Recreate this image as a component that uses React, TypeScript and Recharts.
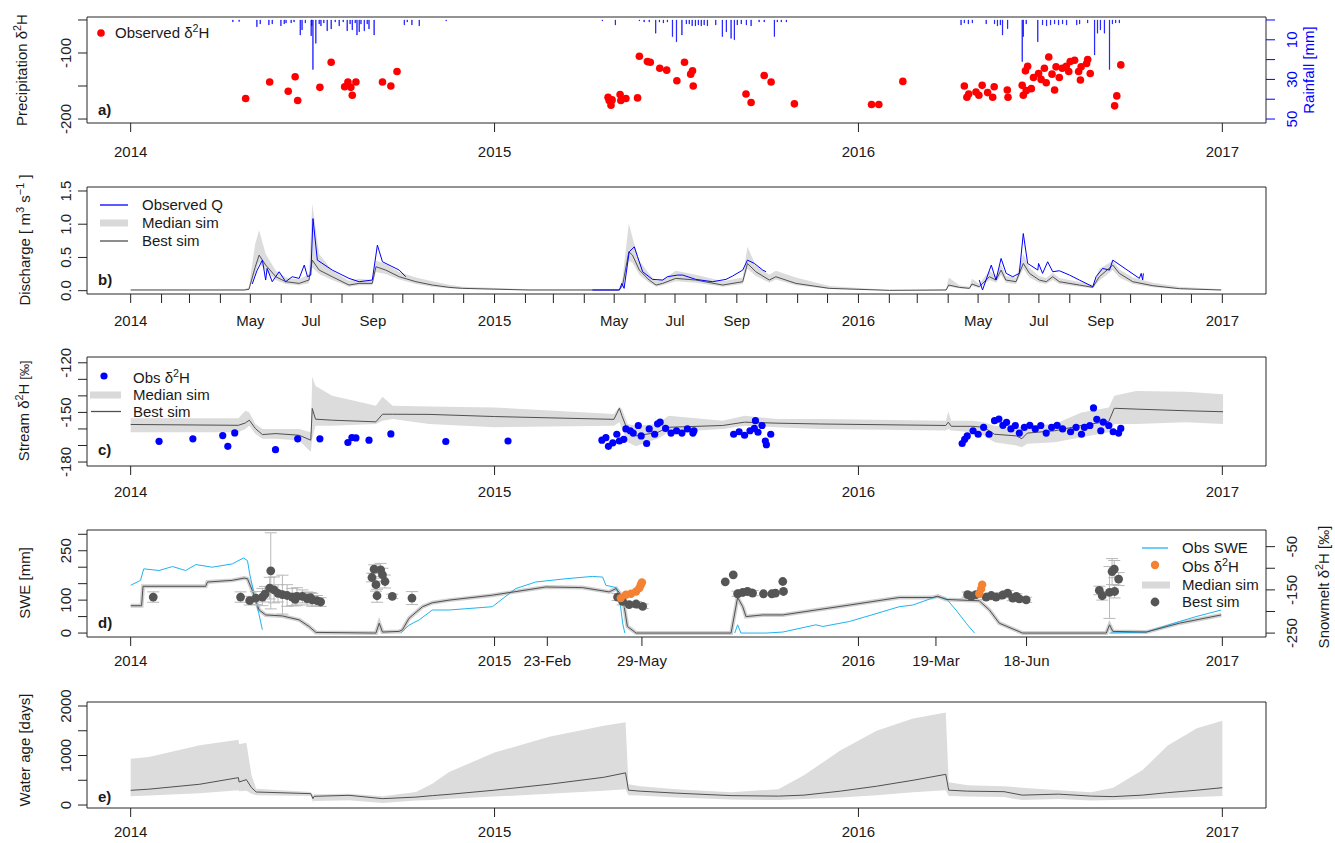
import React from "react";
import {
  ComposedChart,
  XAxis,
  YAxis,
  Line,
  Area,
  Scatter,
  Bar,
  ErrorBar,
  ReferenceArea,
} from "recharts";

const FONT = "'Liberation Sans', Arial, sans-serif";
const X_DOMAIN: [number, number] = [2013.88, 2017.12];
const BAND = "#DCDCDC";
const BEST = "#505050";

// ---------- x tick values / labels
const yearTicks = [2014, 2015, 2016, 2017];
const yearLabels = ["2014", "2015", "2016", "2017"];
const monthStartDays = [0, 31, 59, 90, 120, 151, 181, 212, 243, 273, 304, 334];
const monthNames = ["", "", "", "", "May", "", "Jul", "", "Sep", "", "", ""];
const sweTicks = [2014, 2015, 2015.145, 2015.405, 2016, 2016.213, 2016.462, 2017];
const sweLabels = ["2014", "2015", "23-Feb", "29-May", "2016", "19-Mar", "18-Jun", "2017"];

// ---------- a) precipitation isotopes + rainfall
const precipObs: [number, number][] = [
  [2014.316, -169], [2014.382, -144], [2014.433, -158], [2014.452, -136], [2014.459, -172],
  [2014.52, -152], [2014.551, -114], [2014.588, -151], [2014.597, -144], [2014.605, -152],
  [2014.609, -164], [2014.619, -144], [2014.692, -144], [2014.715, -150], [2014.732, -128],
  [2015.312, -167], [2015.315, -172], [2015.32, -179], [2015.323, -171], [2015.345, -163],
  [2015.347, -172], [2015.361, -169], [2015.393, -168], [2015.398, -105], [2015.42, -113],
  [2015.428, -114], [2015.454, -123], [2015.473, -126], [2015.501, -142], [2015.522, -114],
  [2015.539, -132], [2015.544, -127], [2015.546, -150], [2015.691, -162], [2015.705, -175],
  [2015.741, -134], [2015.76, -144], [2015.824, -177], [2016.036, -178], [2016.056, -178],
  [2016.122, -143], [2016.291, -150], [2016.298, -167], [2016.303, -162], [2016.323, -159],
  [2016.331, -164], [2016.34, -149], [2016.355, -160], [2016.369, -167], [2016.373, -151],
  [2016.409, -156], [2016.411, -167], [2016.45, -149], [2016.453, -164], [2016.459, -127],
  [2016.461, -157], [2016.465, -120], [2016.475, -154], [2016.481, -137], [2016.495, -131],
  [2016.502, -140], [2016.511, -123], [2016.516, -145], [2016.523, -106], [2016.532, -132],
  [2016.539, -156], [2016.543, -121], [2016.552, -137], [2016.56, -123], [2016.571, -120],
  [2016.578, -128], [2016.582, -113], [2016.594, -111], [2016.605, -128], [2016.61, -141],
  [2016.612, -121], [2016.627, -116], [2016.63, -110], [2016.637, -131], [2016.704, -180],
  [2016.71, -165], [2016.721, -118],
];

const rainfall: [number, number][] = [
  [2014.281, 1], [2014.298, 0.8], [2014.347, 3.4], [2014.356, 2], [2014.38, 2.5], [2014.389, 2],
  [2014.413, 3], [2014.422, 2], [2014.427, 1.5], [2014.441, 1.5], [2014.449, 1], [2014.466, 7.6],
  [2014.471, 5], [2014.48, 1.5], [2014.496, 8], [2014.498, 3], [2014.501, 25], [2014.509, 11.8],
  [2014.518, 2], [2014.523, 3], [2014.531, 1.5], [2014.54, 5.5], [2014.551, 4.5], [2014.562, 1],
  [2014.573, 3], [2014.584, 1], [2014.595, 5.5], [2014.603, 2], [2014.609, 5], [2014.617, 1.5],
  [2014.622, 7.6], [2014.628, 6], [2014.633, 2], [2014.642, 5.5], [2014.65, 2], [2014.655, 4.5],
  [2014.669, 7.6], [2014.752, 2.5], [2014.76, 1], [2014.773, 2.5], [2014.793, 3], [2014.867, 0.5],
  [2015.296, 0.5], [2015.332, 2.5], [2015.398, 0.5], [2015.411, 1], [2015.425, 1], [2015.443, 6.7],
  [2015.453, 1], [2015.464, 1.5], [2015.475, 1], [2015.489, 8.4], [2015.5, 11], [2015.515, 7.6],
  [2015.527, 2], [2015.535, 2], [2015.543, 3], [2015.552, 3], [2015.56, 2.5], [2015.568, 3],
  [2015.576, 2.5], [2015.585, 3], [2015.608, 2.5], [2015.626, 8.4], [2015.637, 6], [2015.65, 9.3],
  [2015.659, 10], [2015.667, 2.5], [2015.678, 2], [2015.692, 2.5], [2015.705, 3], [2015.727, 1],
  [2015.741, 1], [2015.769, 8.4], [2015.777, 1], [2015.788, 1], [2015.802, 1], [2016.282, 2.5],
  [2016.291, 1.5], [2016.302, 2], [2016.313, 1.5], [2016.351, 2], [2016.374, 2], [2016.382, 3],
  [2016.39, 2.5], [2016.396, 7.6], [2016.41, 4.4], [2016.45, 21], [2016.453, 8.4], [2016.461, 2],
  [2016.493, 11], [2016.506, 2.5], [2016.517, 3], [2016.528, 2.5], [2016.539, 2], [2016.55, 2.5],
  [2016.561, 2], [2016.572, 2.5], [2016.6, 2.5], [2016.608, 2], [2016.63, 1.5], [2016.649, 17.7],
  [2016.657, 6.7], [2016.665, 5], [2016.676, 6.7], [2016.69, 25], [2016.698, 2], [2016.707, 1.5],
  [2016.717, 1.5],
];

// ---------- b) discharge: [t, best, lo, hi]
const qSim: [number, number, number, number][] = [
  [2014.0, 0.01, 0.005, 0.02], [2014.312, 0.01, 0.005, 0.02], [2014.325, 0.02, 0.01, 0.05],
  [2014.342, 0.35, 0.25, 0.7], [2014.353, 0.535, 0.42, 0.91], [2014.371, 0.385, 0.3, 0.55],
  [2014.399, 0.21, 0.16, 0.3], [2014.426, 0.135, 0.1, 0.2], [2014.463, 0.11, 0.08, 0.17],
  [2014.49, 0.16, 0.11, 0.25], [2014.499, 0.46, 0.35, 1.31], [2014.518, 0.31, 0.25, 0.55],
  [2014.554, 0.21, 0.16, 0.3], [2014.6, 0.085, 0.06, 0.15], [2014.628, 0.11, 0.08, 0.18],
  [2014.664, 0.11, 0.08, 0.16], [2014.674, 0.36, 0.28, 0.45], [2014.701, 0.31, 0.25, 0.4],
  [2014.738, 0.21, 0.17, 0.28], [2014.784, 0.135, 0.1, 0.2], [2014.829, 0.085, 0.06, 0.14],
  [2014.875, 0.05, 0.035, 0.09], [2014.912, 0.035, 0.025, 0.06], [2015.095, 0.01, 0.005, 0.02],
  [2015.343, 0.01, 0.005, 0.02], [2015.352, 0.085, 0.05, 0.2], [2015.369, 0.585, 0.45, 1.01],
  [2015.379, 0.535, 0.42, 0.8], [2015.398, 0.31, 0.24, 0.45], [2015.425, 0.16, 0.12, 0.25],
  [2015.444, 0.085, 0.06, 0.15], [2015.462, 0.11, 0.08, 0.17], [2015.498, 0.185, 0.14, 0.3],
  [2015.553, 0.16, 0.12, 0.24], [2015.627, 0.085, 0.06, 0.14], [2015.682, 0.135, 0.1, 0.2],
  [2015.695, 0.41, 0.33, 0.66], [2015.718, 0.285, 0.22, 0.38], [2015.755, 0.16, 0.12, 0.24],
  [2015.773, 0.21, 0.17, 0.3], [2015.828, 0.11, 0.08, 0.2], [2015.92, 0.035, 0.025, 0.07],
  [2016.085, 0.005, 0.002, 0.01], [2016.241, 0.01, 0.005, 0.02], [2016.248, 0.085, 0.06, 0.2],
  [2016.277, 0.05, 0.035, 0.08], [2016.305, 0.035, 0.025, 0.06], [2016.312, 0.1, 0.07, 0.18],
  [2016.332, 0.06, 0.04, 0.1], [2016.36, 0.21, 0.16, 0.3], [2016.378, 0.16, 0.12, 0.22],
  [2016.392, 0.31, 0.24, 0.4], [2016.405, 0.16, 0.12, 0.22], [2016.433, 0.135, 0.1, 0.2],
  [2016.453, 0.41, 0.33, 0.55], [2016.47, 0.26, 0.2, 0.34], [2016.497, 0.16, 0.12, 0.22],
  [2016.516, 0.135, 0.1, 0.19], [2016.534, 0.21, 0.16, 0.27], [2016.552, 0.135, 0.1, 0.19],
  [2016.607, 0.085, 0.06, 0.13], [2016.644, 0.05, 0.035, 0.09], [2016.662, 0.21, 0.15, 0.33],
  [2016.699, 0.385, 0.31, 0.45], [2016.717, 0.26, 0.2, 0.32], [2016.754, 0.135, 0.1, 0.2],
  [2016.809, 0.075, 0.05, 0.12], [2016.882, 0.03, 0.02, 0.06], [2016.997, 0.01, 0.005, 0.02],
];

const obsQ: [number, number | null][] = [
  [2014.334, 0.1], [2014.347, 0.3], [2014.362, 0.46], [2014.371, 0.16], [2014.375, 0.335],
  [2014.389, 0.135], [2014.408, 0.285], [2014.426, 0.135], [2014.444, 0.21], [2014.463, 0.185],
  [2014.477, 0.385], [2014.486, 0.21], [2014.495, 0.235], [2014.501, 1.085], [2014.513, 0.46],
  [2014.554, 0.31], [2014.6, 0.185], [2014.628, 0.135], [2014.664, 0.16], [2014.678, 0.685],
  [2014.692, 0.435], [2014.738, 0.31], [2014.756, 0.21], [2014.9, null],
  [2015.269, 0.01], [2015.343, 0.01], [2015.35, 0.11], [2015.356, 0.035], [2015.37, 0.585],
  [2015.384, 0.66], [2015.393, 0.51], [2015.407, 0.285], [2015.434, 0.17], [2015.462, 0.16],
  [2015.475, 0.21], [2015.503, 0.235], [2015.517, 0.235], [2015.553, 0.17], [2015.599, 0.135],
  [2015.636, 0.17], [2015.654, 0.22], [2015.682, 0.31], [2015.695, 0.46], [2015.714, 0.41],
  [2015.737, 0.31], [2015.746, 0.285], [2015.9, null],
  [2016.332, 0.16], [2016.341, 0.01], [2016.365, 0.385], [2016.378, 0.16], [2016.392, 0.485],
  [2016.406, 0.26], [2016.424, 0.21], [2016.442, 0.26], [2016.453, 0.86], [2016.465, 0.41],
  [2016.493, 0.31], [2016.495, 0.41], [2016.506, 0.26], [2016.52, 0.435], [2016.534, 0.285],
  [2016.552, 0.3], [2016.58, 0.235], [2016.607, 0.16], [2016.644, 0.06], [2016.653, 0.21],
  [2016.671, 0.335], [2016.69, 0.31], [2016.699, 0.46], [2016.772, 0.185], [2016.777, 0.26],
  [2016.781, 0.16], [2016.783, 0.26],
];

// ---------- c) stream isotopes: [t, best, lo, hi]
const streamSim: [number, number, number, number][] = [
  [2014.0, -157.3, -162, -153.5], [2014.296, -157.8, -162, -153.5], [2014.315, -156.4, -160, -149],
  [2014.326, -154.7, -158, -150], [2014.343, -159.8, -163, -157], [2014.362, -163.4, -166, -160],
  [2014.399, -162.8, -166, -160], [2014.463, -163.8, -167, -160], [2014.495, -166.8, -174, -162],
  [2014.499, -147.6, -166, -128.5], [2014.508, -154.1, -158, -134], [2014.554, -154.7, -158, -140],
  [2014.674, -155.7, -157, -146], [2014.692, -151.1, -155, -140.6], [2014.72, -151.1, -154, -146],
  [2014.82, -151.2, -157, -146.5], [2015.0, -152.5, -159, -147], [2015.328, -154.2, -158, -151],
  [2015.343, -147.5, -156, -146.5], [2015.35, -152, -160, -148], [2015.366, -161.1, -168, -157],
  [2015.388, -164.2, -170.5, -158], [2015.448, -162.1, -166, -157], [2015.478, -159, -162, -152],
  [2015.627, -157.9, -160, -155], [2015.687, -155.9, -158, -152], [2015.776, -156.5, -159, -154],
  [2015.896, -157, -160, -154], [2016.24, -157.9, -161, -155], [2016.247, -155.9, -160, -149.5],
  [2016.255, -158.4, -161, -155], [2016.315, -158.4, -162, -155], [2016.344, -159, -164, -156],
  [2016.374, -163.2, -168, -158], [2016.434, -164.2, -170, -159], [2016.449, -165.9, -171, -159],
  [2016.464, -162.5, -169, -158], [2016.539, -161.1, -168, -157], [2016.613, -157.9, -165, -150],
  [2016.688, -155.4, -162, -147], [2016.703, -147.5, -157, -140], [2016.763, -148, -157, -137],
  [2016.9, -149, -156, -137.5], [2017.002, -149.6, -157, -139],
];

const streamObs: [number, number][] = [
  [2014.078, -167.5], [2014.171, -166], [2014.253, -164], [2014.267, -170.5], [2014.286, -162.4],
  [2014.398, -172.5], [2014.459, -166], [2014.52, -166], [2014.597, -168.2], [2014.608, -165.2],
  [2014.619, -165.4], [2014.655, -166.8], [2014.715, -163], [2014.866, -167.6], [2015.037, -167.3],
  [2015.295, -166.8], [2015.306, -165.3], [2015.313, -170.5], [2015.325, -168.4], [2015.336, -163.2],
  [2015.343, -167.3], [2015.355, -166.3], [2015.361, -160], [2015.373, -161.1], [2015.381, -162.5],
  [2015.395, -157.9], [2015.403, -164.2], [2015.418, -168.8], [2015.425, -160], [2015.44, -163.2],
  [2015.448, -156.9], [2015.455, -155.9], [2015.47, -159.7], [2015.485, -162.5], [2015.5, -161.1],
  [2015.515, -162.5], [2015.53, -160], [2015.545, -162.5], [2015.548, -161.1], [2015.657, -163.2],
  [2015.672, -161.7], [2015.687, -163.8], [2015.702, -161.1], [2015.714, -159.7], [2015.717, -155],
  [2015.724, -162], [2015.735, -157.9], [2015.744, -167.3], [2015.747, -169.5], [2015.759, -163.2],
  [2016.285, -168.8], [2016.292, -166.3], [2016.299, -164.2], [2016.315, -161.1], [2016.329, -163.2],
  [2016.344, -159], [2016.359, -163.2], [2016.374, -155], [2016.386, -154], [2016.397, -157.8],
  [2016.407, -156], [2016.419, -160], [2016.431, -157.9], [2016.442, -162.5], [2016.456, -159],
  [2016.471, -157.8], [2016.486, -160], [2016.501, -157.9], [2016.516, -162.5], [2016.531, -159],
  [2016.546, -157.8], [2016.561, -160], [2016.583, -161.7], [2016.598, -159], [2016.613, -163.2],
  [2016.621, -159], [2016.636, -157.9], [2016.646, -147.3], [2016.655, -154.2], [2016.666, -161.1],
  [2016.673, -155.9], [2016.688, -157.9], [2016.7, -161.7], [2016.715, -162.5], [2016.721, -159.7],
];

// ---------- d) snow water equivalent + snowmelt isotopes
const sweBest: [number, number][] = [
  [2014.0, 83], [2014.03, 83], [2014.034, 142], [2014.206, 142], [2014.211, 155], [2014.279, 160],
  [2014.312, 167], [2014.321, 165], [2014.334, 130], [2014.353, 70], [2014.371, 55], [2014.417, 52],
  [2014.463, 40], [2014.49, 20], [2014.509, 2], [2014.674, 0], [2014.683, 30], [2014.692, 3],
  [2014.738, 5], [2014.747, 10], [2014.765, 45], [2014.802, 80], [2014.829, 92], [2014.875, 100],
  [2014.994, 115], [2015.141, 140], [2015.242, 138], [2015.315, 125], [2015.334, 135], [2015.352, 110],
  [2015.365, 20], [2015.389, 0], [2015.65, 0], [2015.668, 108], [2015.682, 80], [2015.691, 50],
  [2015.737, 55], [2015.792, 55], [2015.883, 70], [2015.975, 85], [2016.112, 108], [2016.204, 108],
  [2016.218, 112], [2016.241, 102], [2016.332, 98], [2016.36, 70], [2016.387, 30], [2016.451, 0],
  [2016.681, 0], [2016.69, 25], [2016.699, 5], [2016.791, 3], [2016.882, 30], [2016.997, 55],
];

const sweObs: [number, number | null][] = [
  [2014.0, 145], [2014.027, 160], [2014.036, 195], [2014.078, 190], [2014.115, 202], [2014.151, 190],
  [2014.179, 208], [2014.224, 200], [2014.279, 210], [2014.31, 228], [2014.321, 220], [2014.327, 180],
  [2014.339, 120], [2014.352, 60], [2014.362, 10], [2014.5, null],
  [2014.742, 0], [2014.765, 24], [2014.793, 40], [2014.829, 70], [2014.875, 70], [2014.994, 80],
  [2015.058, 135], [2015.113, 155], [2015.196, 165], [2015.269, 172], [2015.297, 170], [2015.306, 145],
  [2015.334, 138], [2015.343, 110], [2015.352, 30], [2015.358, 0], [2015.5, null],
  [2015.66, 0], [2015.668, 25], [2015.677, 0], [2015.746, 0], [2015.792, 3], [2015.883, 25],
  [2015.902, 20], [2015.975, 35], [2016.067, 65], [2016.112, 80], [2016.149, 85], [2016.213, 110],
  [2016.241, 105], [2016.268, 70], [2016.296, 30], [2016.319, 0], [2016.5, null],
  [2016.69, 0], [2016.791, 3], [2016.882, 35], [2016.928, 50], [2016.997, 70],
];

// [t, delta2H, error]
const meltBest: [number, number, number][] = [
  [2014.062, -166.6, 12], [2014.302, -166.6, 12], [2014.327, -175, 10], [2014.344, -169, 15],
  [2014.362, -166.6, 20], [2014.369, -160, 18], [2014.382, -146, 25], [2014.385, -106, 88],
  [2014.394, -150, 30], [2014.405, -158, 20], [2014.417, -161, 45], [2014.43, -163, 25],
  [2014.444, -166.6, 20], [2014.452, -172, 15], [2014.457, -165, 20], [2014.472, -165, 15],
  [2014.485, -170, 15], [2014.494, -168, 12], [2014.499, -173, 15], [2014.512, -175, 12],
  [2014.522, -178, 10], [2014.663, -121.4, 10], [2014.669, -102, 10], [2014.674, -138, 15],
  [2014.677, -163.6, 15], [2014.687, -103.7, 15], [2014.692, -115, 15], [2014.699, -130.6, 15],
  [2014.719, -165, 5], [2014.773, -169, 15],
  [2015.338, -166.6, 8], [2015.352, -176.7, 8], [2015.37, -184, 6], [2015.389, -182.7, 6],
  [2015.407, -188, 5], [2015.634, -131.4, 0], [2015.656, -115.2, 0], [2015.668, -159, 6],
  [2015.682, -156, 6], [2015.695, -153.7, 6], [2015.709, -157.4, 6], [2015.739, -159, 0],
  [2015.762, -159, 0], [2015.772, -157.4, 0], [2015.792, -130.6, 0], [2015.794, -153.7, 0],
  [2016.3, -161, 6], [2016.31, -165, 6], [2016.323, -161, 6], [2016.351, -166.6, 6],
  [2016.365, -163, 6], [2016.378, -166.6, 6], [2016.396, -162, 6], [2016.41, -157.4, 6],
  [2016.424, -169, 6], [2016.434, -165, 6], [2016.442, -171, 6], [2016.461, -173, 6],
  [2016.662, -151.4, 10], [2016.67, -163.6, 10], [2016.69, -156, 60], [2016.697, -107.6, 30],
  [2016.703, -102, 20], [2016.704, -153.7, 15], [2016.715, -125, 15],
];

const meltObs: [number, number][] = [
  [2015.347, -169], [2015.361, -161], [2015.375, -159], [2015.389, -153.7], [2015.398, -145.8],
  [2015.402, -138.3], [2015.405, -133], [2016.332, -159], [2016.337, -148.3], [2016.34, -138.3],
];

// ---------- e) water age: [t, best, lo, hi]
const ageSim: [number, number, number, number][] = [
  [2014.0, 297, 176, 937], [2014.05, 320, 190, 970], [2014.19, 420, 240, 1206],
  [2014.296, 553, 297, 1321], [2014.298, 465, 280, 1226], [2014.318, 513, 290, 1260],
  [2014.332, 351, 230, 600], [2014.345, 263, 196, 331], [2014.495, 230, 180, 263],
  [2014.501, 129, 61, 200], [2014.504, 176, 80, 220], [2014.6, 196, 95, 230],
  [2014.692, 129, 40, 176], [2014.784, 160, 90, 263], [2014.829, 190, 100, 432],
  [2014.875, 216, 129, 667], [2015.0, 300, 170, 1060], [2015.15, 420, 230, 1380],
  [2015.3, 560, 290, 1600], [2015.36, 650, 320, 1670], [2015.368, 300, 200, 420],
  [2015.4, 280, 190, 380], [2015.5, 240, 150, 320], [2015.65, 190, 110, 260],
  [2015.78, 180, 100, 320], [2015.85, 200, 120, 600], [2015.95, 280, 150, 1100],
  [2016.05, 380, 200, 1500], [2016.15, 500, 260, 1750], [2016.24, 620, 300, 1870],
  [2016.248, 300, 180, 460], [2016.3, 280, 170, 400], [2016.4, 270, 160, 380],
  [2016.45, 200, 100, 350], [2016.55, 220, 120, 300], [2016.64, 180, 90, 260],
  [2016.7, 170, 100, 350], [2016.78, 200, 120, 700], [2016.85, 250, 140, 1200],
  [2016.93, 300, 160, 1550], [2017.0, 350, 180, 1700],
];

// ---------- tables for the library
const pts = (a: [number, number | null][]) => a.map(([t, v]) => ({ t, v }));
const bandOf = (a: [number, number, number, number][]) => a.map(([t, , lo, hi]) => ({ t, r: [lo, hi] }));
const bestOf = (a: [number, number, number, number][]) => a.map(([t, v]) => ({ t, v }));

const monthTicks: number[] = [];
const monthTickLabels: string[] = [];
[2014, 2015, 2016].forEach((y) =>
  monthStartDays.forEach((d, i) => {
    monthTicks.push(+(y + d / 365).toFixed(4));
    monthTickLabels.push(i === 0 ? String(y) : monthNames[i]);
  })
);
monthTicks.push(2017);
monthTickLabels.push("2017");

// ---------- tick renderers
const xTick = (ticks: number[], labels: string[], off: number) => (p: any) => {
  const i = ticks.indexOf(p.payload.value);
  const lab = i >= 0 ? labels[i] : "";
  return (
    <g>
      <line x1={p.x} x2={p.x} y1={p.y} y2={p.y + 9} stroke="#222" strokeWidth={1} />
      {lab ? (
        <text x={p.x} y={p.y + off} textAnchor="middle" fontSize={15} fontFamily={FONT} fill="#1a1a1a">
          {lab}
        </text>
      ) : null}
    </g>
  );
};

const yTick = (ticks: number[], labels: string[], side: "l" | "r", color = "#222") => (p: any) => {
  const i = ticks.indexOf(p.payload.value);
  const lab = i >= 0 ? labels[i] : "";
  const x2 = side === "l" ? p.x - 9 : p.x + 9;
  const tx = side === "l" ? p.x - 16 : p.x + 31;
  return (
    <g>
      <line x1={p.x} x2={x2} y1={p.y} y2={p.y} stroke={color} strokeWidth={1} />
      {lab ? (
        <text
          transform={`translate(${tx},${p.y}) rotate(-90)`}
          textAnchor="middle"
          fontSize={15}
          fontFamily={FONT}
          fill={color}
        >
          {lab}
        </text>
      ) : null}
    </g>
  );
};

const xAxisProps = (ticks: number[], labels: string[], off: number, h: number) => ({
  xAxisId: "x",
  dataKey: "t",
  type: "number" as const,
  domain: X_DOMAIN,
  allowDataOverflow: true,
  ticks,
  interval: 0 as const,
  tickSize: 0,
  tickMargin: 0,
  axisLine: false,
  tickLine: false,
  height: h,
  tick: xTick(ticks, labels, off),
});

const yAxisProps = (id: string, domain: [number, number], ticks: number[], labels: string[], side: "l" | "r", color?: string) => ({
  yAxisId: id,
  type: "number" as const,
  domain,
  allowDataOverflow: true,
  ticks,
  interval: 0 as const,
  tickSize: 0,
  tickMargin: 0,
  axisLine: false,
  tickLine: false,
  width: 60,
  orientation: side === "l" ? ("left" as const) : ("right" as const),
  tick: yTick(ticks, labels, side, color),
});

const frame = (yId: string, y: [number, number]) => (
  <ReferenceArea
    xAxisId="x"
    yAxisId={yId}
    x1={X_DOMAIN[0]}
    x2={X_DOMAIN[1]}
    y1={y[0]}
    y2={y[1]}
    fill="none"
    fillOpacity={0}
    stroke="#262626"
    strokeWidth={1}
    ifOverflow="visible"
  />
);

const dot = (r: number, fill: string) => (p: any) =>
  p.cx == null ? <g /> : <circle cx={p.cx} cy={p.cy} r={r} fill={fill} />;

// ---------- overlay text helpers
const D2H = ({ fs = 15 }: { fs?: number }) => (
  <>
    δ<tspan fontSize={fs * 0.72} dy={-fs * 0.4}>2</tspan>
    <tspan dy={fs * 0.4}>H</tspan>
  </>
);

const VText = ({ x, y, color = "#1a1a1a", children }: any) => (
  <text
    transform={`translate(${x},${y}) rotate(-90)`}
    textAnchor="middle"
    fontSize={15}
    fontFamily={FONT}
    fill={color}
  >
    {children}
  </text>
);

const T = ({ x, y, children, bold }: any) => (
  <text x={x} y={y} fontSize={15} fontFamily={FONT} fill="#1a1a1a" fontWeight={bold ? "bold" : "normal"}>
    {children}
  </text>
);

const W = 1335;

export default function App() {
  const dA: [number, number] = [-206, -45.5];
  const dRain: [number, number] = [-1.5, 52];
  const dB: [number, number] = [-0.05, 1.56];
  const dC: [number, number] = [-182.4, -116.5];
  const dD: [number, number] = [-12, 313];
  const dDr: [number, number] = [-259, -11.5];
  const dE: [number, number] = [-60, 2081];

  const rainData = rainfall.map(([t, v]) => ({ t, rain: v }));

  return (
    <div style={{ position: "relative", width: W, height: 843, background: "#fff" }}>
      <style>{"body{margin:0}"}</style>

      {/* a) */}
      <div style={{ position: "absolute", left: 0, top: 0 }}>
        <ComposedChart width={W} height={170} data={rainData} margin={{ top: 17, right: 9, bottom: 7, left: 27 }}>
          <XAxis {...xAxisProps(yearTicks, yearLabels, 34, 40)} />
          <YAxis {...yAxisProps("l", dA, [-200, -150, -100, -50], ["-200", "", "-100", ""], "l")} />
          <YAxis
            {...yAxisProps("r", dRain, [0, 10, 20, 30, 40, 50], ["", "10", "", "30", "", "50"], "r", "#0000FF")}
            reversed
          />
          <Bar
            xAxisId="x"
            yAxisId="r"
            dataKey="rain"
            fill="#0000FF"
            fillOpacity={1}
            stroke="#0000FF"
            strokeWidth={0.6}
            barSize={1}
            isAnimationActive={false}
          />
          <Scatter xAxisId="x" yAxisId="l" data={pts(precipObs)} dataKey="v" shape={dot(3.8, "#FF0000")} isAnimationActive={false} />
          {frame("l", dA)}
        </ComposedChart>
      </div>

      {/* b) */}
      <div style={{ position: "absolute", left: 0, top: 170 }}>
        <ComposedChart width={W} height={170} margin={{ top: 17, right: 69, bottom: 6, left: 27 }}>
          <XAxis {...xAxisProps(monthTicks, monthTickLabels, 32, 40)} />
          <YAxis {...yAxisProps("l", dB, [0, 0.5, 1, 1.5], ["0.0", "0.5", "1.0", "1.5"], "l")} />
          <Area xAxisId="x" yAxisId="l" data={bandOf(qSim)} dataKey="r" type="linear" fill={BAND} fillOpacity={1} stroke="none" dot={false} activeDot={false} isAnimationActive={false} />
          <Line xAxisId="x" yAxisId="l" data={bestOf(qSim)} dataKey="v" type="linear" stroke={BEST} strokeWidth={1} dot={false} activeDot={false} isAnimationActive={false} />
          <Line xAxisId="x" yAxisId="l" data={pts(obsQ)} dataKey="v" type="linear" stroke="#0000FF" strokeWidth={1} dot={false} activeDot={false} isAnimationActive={false} />
          {frame("l", dB)}
        </ComposedChart>
      </div>

      {/* c) */}
      <div style={{ position: "absolute", left: 0, top: 340 }}>
        <ComposedChart width={W} height={170} margin={{ top: 17, right: 69, bottom: 4, left: 27 }}>
          <XAxis {...xAxisProps(yearTicks, yearLabels, 31, 40)} />
          <YAxis
            {...yAxisProps("l", dC, [-180, -170, -160, -150, -140, -130, -120], ["-180", "", "", "-150", "", "", "-120"], "l")}
          />
          <Area xAxisId="x" yAxisId="l" data={bandOf(streamSim)} dataKey="r" type="linear" fill={BAND} fillOpacity={1} stroke="none" dot={false} activeDot={false} isAnimationActive={false} />
          <Line xAxisId="x" yAxisId="l" data={bestOf(streamSim)} dataKey="v" type="linear" stroke={BEST} strokeWidth={1} dot={false} activeDot={false} isAnimationActive={false} />
          <Scatter xAxisId="x" yAxisId="l" data={pts(streamObs)} dataKey="v" shape={dot(3.6, "#0000FF")} isAnimationActive={false} />
          {frame("l", dC)}
        </ComposedChart>
      </div>

      {/* d) */}
      <div style={{ position: "absolute", left: 0, top: 510 }}>
        <ComposedChart width={W} height={170} margin={{ top: 20, right: 9, bottom: 3, left: 27 }}>
          <XAxis {...xAxisProps(sweTicks, sweLabels, 29, 40)} />
          <YAxis
            {...yAxisProps("l", dD, [0, 50, 100, 150, 200, 250, 300], ["0", "", "100", "", "", "250", ""], "l")}
          />
          <YAxis
            {...yAxisProps("r", dDr, [-250, -200, -150, -100, -50], ["-250", "", "-150", "", "-50"], "r")}
          />
          <Line xAxisId="x" yAxisId="l" data={pts(sweBest)} dataKey="v" type="linear" stroke="#D0D0D0" strokeWidth={4} dot={false} activeDot={false} isAnimationActive={false} />
          <Line xAxisId="x" yAxisId="l" data={pts(sweObs)} dataKey="v" type="linear" stroke="#1EB4F0" strokeWidth={1} dot={false} activeDot={false} isAnimationActive={false} />
          <Line xAxisId="x" yAxisId="l" data={pts(sweBest)} dataKey="v" type="linear" stroke={BEST} strokeWidth={1} dot={false} activeDot={false} isAnimationActive={false} />
          <Scatter
            xAxisId="x"
            yAxisId="r"
            data={meltBest.map(([t, v, e]) => ({ t, v, e }))}
            dataKey="v"
            shape={dot(4.4, "#555555")}
            isAnimationActive={false}
          >
            <ErrorBar dataKey="e" direction="y" width={6} stroke="#B8B8B8" strokeWidth={1} />
          </Scatter>
          <Scatter xAxisId="x" yAxisId="r" data={pts(meltObs)} dataKey="v" shape={dot(4.2, "#F58232")} isAnimationActive={false} />
          {frame("l", dD)}
        </ComposedChart>
      </div>

      {/* e) */}
      <div style={{ position: "absolute", left: 0, top: 680 }}>
        <ComposedChart width={W} height={163} margin={{ top: 22, right: 69, bottom: 0, left: 27 }}>
          <XAxis {...xAxisProps(yearTicks, yearLabels, 29, 35)} />
          <YAxis {...yAxisProps("l", dE, [0, 500, 1000, 1500, 2000], ["0", "", "1000", "", "2000"], "l")} />
          <Area xAxisId="x" yAxisId="l" data={bandOf(ageSim)} dataKey="r" type="linear" fill={BAND} fillOpacity={1} stroke="none" dot={false} activeDot={false} isAnimationActive={false} />
          <Line xAxisId="x" yAxisId="l" data={bestOf(ageSim)} dataKey="v" type="linear" stroke={BEST} strokeWidth={1} dot={false} activeDot={false} isAnimationActive={false} />
          {frame("l", dE)}
        </ComposedChart>
      </div>

      {/* titles, legends, panel letters */}
      <svg width={W} height={843} style={{ position: "absolute", left: 0, top: 0, pointerEvents: "none" }}>
        {/* a */}
        <VText x={27} y={70}>
          Precipitation <D2H />
        </VText>
        <VText x={1314} y={70} color="#0000FF">
          Rainfall [mm]
        </VText>
        <circle cx={101} cy={33} r={3.8} fill="#FF0000" />
        <T x={115} y={38}>
          Observed <D2H />
        </T>
        <T x={98} y={115} bold>
          a)
        </T>

        {/* b */}
        <VText x={30} y={240}>
          Discharge [ m<tspan fontSize={11} dy={-6}>3</tspan>
          <tspan dy={6}> s</tspan>
          <tspan fontSize={11} dy={-6}>−1</tspan>
          <tspan dy={6}> ]</tspan>
        </VText>
        <line x1={100} x2={128} y1={205} y2={205} stroke="#0000FF" strokeWidth={1.3} />
        <T x={142} y={210}>Observed Q</T>
        <line x1={100} x2={128} y1={223} y2={223} stroke="#D9D9D9" strokeWidth={7} />
        <T x={142} y={228}>Median sim</T>
        <line x1={100} x2={128} y1={241} y2={241} stroke={BEST} strokeWidth={1.3} />
        <T x={142} y={246}>Best sim</T>
        <T x={98} y={285} bold>
          b)
        </T>

        {/* c */}
        <VText x={29} y={411}>
          Stream <D2H /> <tspan fontSize={12}>[‰]</tspan>
        </VText>
        <circle cx={104} cy={376} r={3.6} fill="#0000FF" />
        <T x={133} y={383}>
          Obs <D2H />
        </T>
        <line x1={90} x2={121} y1={395} y2={395} stroke="#D9D9D9" strokeWidth={7} />
        <T x={133} y={400}>Median sim</T>
        <line x1={91} x2={121} y1={411.5} y2={411.5} stroke={BEST} strokeWidth={1.3} />
        <T x={133} y={417}>Best sim</T>
        <T x={98} y={455} bold>
          c)
        </T>

        {/* d */}
        <VText x={30} y={583}>
          SWE [mm]
        </VText>
        <VText x={1329} y={587}>
          Snowmelt <D2H /> [‰]
        </VText>
        <line x1={1142} x2={1168} y1={548} y2={548} stroke="#1EB4F0" strokeWidth={1.3} />
        <T x={1182} y={553}>Obs SWE</T>
        <circle cx={1155} cy={565} r={4.2} fill="#F58232" />
        <T x={1182} y={572}>
          Obs <D2H />
        </T>
        <line x1={1142} x2={1170} y1={585} y2={585} stroke="#D9D9D9" strokeWidth={7} />
        <T x={1182} y={590}>Median sim</T>
        <circle cx={1155} cy={602} r={4.4} fill="#555555" />
        <T x={1182} y={607}>Best sim</T>
        <T x={98} y={628} bold>
          d)
        </T>

        {/* e */}
        <VText x={30} y={750}>
          Water age [days]
        </VText>
        <T x={98} y={802} bold>
          e)
        </T>
      </svg>
    </div>
  );
}
